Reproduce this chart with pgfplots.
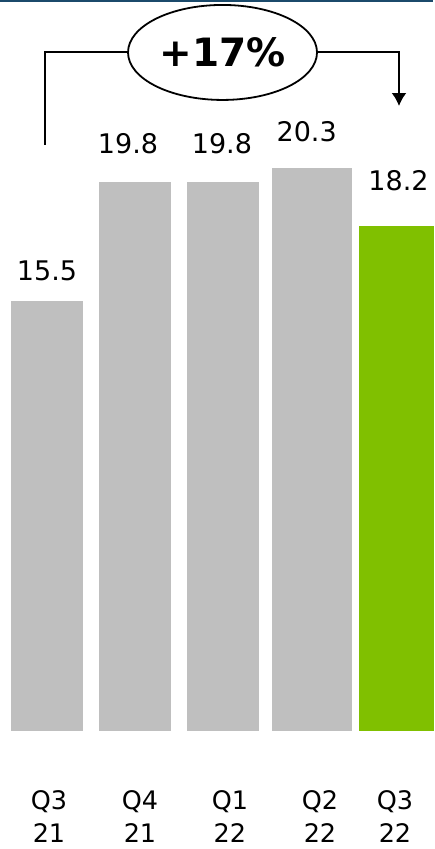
\documentclass[border=0pt]{standalone}
\usepackage{fontspec}
\setmainfont{DejaVu Sans}
\usepackage{pgfplots}
\usetikzlibrary{arrows.meta}
\pgfplotsset{compat=1.18}
\definecolor{barGray}{HTML}{BFBFBF}
\definecolor{barGreen}{HTML}{80C000}
\definecolor{topBlue}{HTML}{1B4A6B}
\tikzset{catlab/.style={align=center, font=\fontsize{25.5}{33}\selectfont, inner sep=0pt}}
\begin{document}
\begin{tikzpicture}
\begin{axis}[
  scale only axis,
  width=434pt, height=849pt,
  xmin=-0.537, xmax=4.423,
  ymin=-4.25, ymax=26.34,
  hide axis,
  /pgf/number format/assume math mode=true,
  /pgf/number format/.cd, fixed, fixed zerofill, precision=1, /pgfplots/.cd,
  nodes near coords,
  every node near coord/.append style={font=\fontsize{27}{30}\selectfont, anchor=base, yshift=28pt, text=black},
]
\path (rel axis cs:0,0) rectangle (rel axis cs:1,1);
\addplot[ybar, bar width=0.823, fill=barGray, draw=none,
  every node near coord/.append style={xshift=0pt, yshift=-8pt}] coordinates {(0,15.5)};
\addplot[ybar, bar width=0.823, fill=barGray, draw=none,
  every node near coord/.append style={xshift=-7pt}] coordinates {(1.006,19.8)};
\addplot[ybar, bar width=0.823, fill=barGray, draw=none,
  every node near coord/.append style={xshift=-1pt}] coordinates {(2.011,19.8)};
\addplot[ybar, bar width=0.914, fill=barGray, draw=none,
  every node near coord/.append style={xshift=-5pt, yshift=-2pt}] coordinates {(3.025,20.3)};
\addplot[ybar, bar width=0.857, fill=barGreen, draw=none,
  every node near coord/.append style={xshift=2pt, yshift=7pt}] coordinates {(3.994,18.2)};
% top rule
\fill[topBlue] (rel axis cs:0,1) rectangle (rel axis cs:0.998,0.9972);
% bracket
\draw[line width=2pt] (axis cs:-0.023,21.12) -- (axis cs:-0.023,24.45) -- (axis cs:0.926,24.45);
\draw[line width=2pt, -{Latex[length=13pt,width=15pt]}] (axis cs:3.086,24.45) -- (axis cs:4.023,24.45) -- (axis cs:4.023,22.52);
\draw[line width=1.8pt, fill=white] (axis cs:2.006,24.45) ellipse [x radius=94.5pt, y radius=47.5pt];
\node[font=\fontsize{39}{42}\bfseries\selectfont] at (axis cs:2.006,24.45) {+17\%};
% categories
\node[catlab] at (axis cs:0.023,-3.08) {Q3\\21};
\node[catlab] at (axis cs:1.063,-3.08) {Q4\\21};
\node[catlab] at (axis cs:2.091,-3.08) {Q1\\22};
\node[catlab] at (axis cs:3.12,-3.08) {Q2\\22};
\node[catlab] at (axis cs:3.977,-3.08) {Q3\\22};
\end{axis}
\end{tikzpicture}
\end{document}
